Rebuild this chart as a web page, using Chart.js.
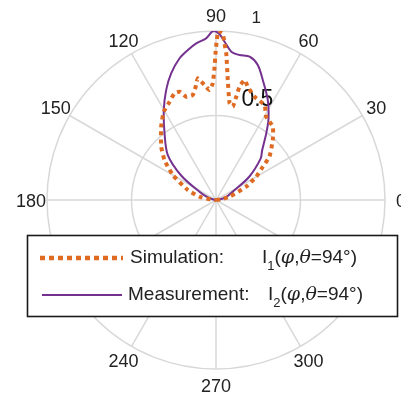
<!DOCTYPE html>
<html>
<head>
<meta charset="utf-8">
<script src="https://cdn.jsdelivr.net/npm/chart.js@4.4.1/dist/chart.umd.min.js"></script>
<style>
  html, body { margin: 0; padding: 0; background: #fff; }
  #wrap { width: 401px; height: 403px; }
</style>
</head>
<body>
<div id="wrap"><canvas id="polarChart" width="401" height="403"></canvas></div>
<script>
// simulation I1(phi, theta=94deg): angle in degrees, normalised radius
const SIM_ANGLES = [0, 8, 13.7, 23.8, 30.1, 35.4, 39, 46.6, 52.2, 58.9, 62.9, 69.6, 74.3, 76.6, 78.3, 78.9, 79.8, 82, 84.4, 86, 86.9, 87.7, 89.2, 89.7, 90.2, 90.6, 91.6, 93.4, 95.7, 98.5, 99.8, 102.5, 106.1, 108.6, 111.3, 115.3, 120.6, 126.8, 135.8, 142.2, 150, 160.5, 168.7, 175, 180];
const SIM_R = [0, 0.03, 0.082, 0.195, 0.275, 0.34, 0.407, 0.489, 0.549, 0.575, 0.631, 0.652, 0.696, 0.73, 0.685, 0.623, 0.561, 0.578, 0.714, 0.87, 0.928, 0.987, 1.0, 0.947, 0.868, 0.789, 0.69, 0.652, 0.684, 0.728, 0.69, 0.636, 0.636, 0.676, 0.677, 0.643, 0.607, 0.542, 0.452, 0.386, 0.295, 0.177, 0.1, 0.03, 0];

// measurement I2(phi, theta=94deg)
const MEAS_ANGLES = [0, 8, 15, 26.5, 35, 42.8, 47, 53, 57, 62.6, 68.7, 72.8, 76.8, 80.8, 84.1, 86.9, 89, 91, 93.5, 97.2, 100.6, 104.4, 109.5, 114.4, 120.1, 127.7, 137, 145, 153.5, 162, 172, 180];
const MEAS_R = [0, 0.02, 0.06, 0.11, 0.24, 0.36, 0.4, 0.494, 0.57, 0.666, 0.762, 0.836, 0.871, 0.869, 0.882, 0.938, 0.985, 1.0, 0.958, 0.934, 0.903, 0.866, 0.795, 0.714, 0.616, 0.498, 0.39, 0.25, 0.11, 0.05, 0.01, 0];

const ANGLE_TICKS = [0, 30, 60, 90, 120, 150, 180, 210, 240, 270, 300, 330];
const R_TICKS = [0.5, 1];
const R_TICK_LABELS = ['0.5', '1'];
const SERIES_NAMES = ['Simulation:', 'Measurement:'];
const SERIES_SUBSCRIPTS = ['1', '2'];
const SERIES_THETA = '=94°)';

const SIM_COLOR = '#DF6A22';
const MEAS_COLOR = '#74318F';
const GRID_COLOR = '#d8d8d8';
const TEXT_COLOR = '#222222';
const FONT = '"Liberation Sans", Arial, Helvetica, sans-serif';

function toXY(angles, radii) {
    return angles.map((a, i) => {
        var t = a * Math.PI / 180;
        return { x: radii[i] * Math.cos(t), y: radii[i] * Math.sin(t) };
    });
}

function polarGeom(chart) {
    var sx = chart.scales.x, sy = chart.scales.y;
    var cx = sx.getPixelForValue(0), cy = sy.getPixelForValue(0);
    return { cx: cx, cy: cy, unit: sx.getPixelForValue(1) - cx };
}

// rings, spokes and labels of the polar axes
const polarGrid = {
    id: 'polarGrid',
    beforeDatasetsDraw(chart) {
        var ctx = chart.ctx;
        var g = polarGeom(chart);
        ctx.save();
        ctx.strokeStyle = GRID_COLOR;
        ctx.lineWidth = 1.5;
        R_TICKS.forEach(r => {
            ctx.beginPath();
            ctx.arc(g.cx, g.cy, r * g.unit, 0, Math.PI * 2);
            ctx.stroke();
        });
        var rMax = R_TICKS[R_TICKS.length - 1];
        ANGLE_TICKS.forEach(a => {
            var t = a * Math.PI / 180;
            ctx.beginPath();
            ctx.moveTo(g.cx, g.cy);
            ctx.lineTo(g.cx + rMax * g.unit * Math.cos(t), g.cy - rMax * g.unit * Math.sin(t));
            ctx.stroke();
        });
        ctx.fillStyle = TEXT_COLOR;
        ctx.textAlign = 'center';
        ctx.textBaseline = 'middle';
        ctx.font = '18px ' + FONT;
        ANGLE_TICKS.forEach(a => {
            var t = a * Math.PI / 180;
            var rr = g.unit * 1.095;
            ctx.fillText(String(a), g.cx + rr * Math.cos(t), g.cy - rr * Math.sin(t) + 2);
        });
        // radial tick labels
        var pos = [[67.5, 0.64, 23], [77.5, 1.1, 17]];
        R_TICK_LABELS.forEach((lab, i) => {
            var t = pos[i][0] * Math.PI / 180;
            var rr = pos[i][1] * g.unit;
            ctx.font = pos[i][2] + 'px ' + FONT;
            ctx.fillStyle = i === 0 ? '#111' : TEXT_COLOR;
            ctx.fillText(lab, g.cx + rr * Math.cos(t), g.cy - rr * Math.sin(t));
        });
        ctx.restore();
    }
};

function drawRuns(ctx, x, y, runs) {
    runs.forEach(run => {
        ctx.font = (run.italic ? 'italic ' : '') + run.size + 'px ' + (run.family || FONT);
        ctx.fillText(run.text, x, y + (run.dy || 0));
        x += ctx.measureText(run.text).width;
    });
}

// boxed legend drawn over the lower part of the plot
const boxLegend = {
    id: 'boxLegend',
    afterDraw(chart) {
        var ctx = chart.ctx;
        ctx.save();
        ctx.fillStyle = '#fff';
        ctx.fillRect(27, 235, 371, 82);
        ctx.strokeStyle = '#1a1a1a';
        ctx.lineWidth = 1.6;
        ctx.strokeRect(27.5, 235.5, 370, 81);

        var rows = [
            { y: 258, color: SIM_COLOR, dash: [5, 4], width: 4.5, x0: 40, x1: 123, mathX: 262 },
            { y: 295, color: MEAS_COLOR, dash: [], width: 2, x0: 42, x1: 122, mathX: 268 }
        ];
        rows.forEach((row, i) => {
            ctx.strokeStyle = row.color;
            ctx.lineWidth = row.width;
            ctx.setLineDash(row.dash);
            ctx.beginPath();
            ctx.moveTo(row.x0, row.y);
            ctx.lineTo(row.x1, row.y);
            ctx.stroke();
            ctx.setLineDash([]);

            ctx.fillStyle = TEXT_COLOR;
            ctx.textAlign = 'left';
            ctx.textBaseline = 'middle';
            ctx.font = '19px ' + FONT;
            ctx.fillText(SERIES_NAMES[i], i === 0 ? 130 : 128, row.y);
            drawRuns(ctx, row.mathX, row.y, [
                { text: 'I', size: 19 },
                { text: SERIES_SUBSCRIPTS[i], size: 13, dy: 8 },
                { text: '(', size: 19 },
                { text: 'φ', size: 19, italic: true, family: '"DejaVu Serif", serif' },
                { text: ',', size: 19 },
                { text: 'θ', size: 19, italic: true, family: '"DejaVu Serif", serif' },
                { text: SERIES_THETA, size: 19 }
            ]);
        });
        ctx.restore();
    }
};

var canvas = document.getElementById('polarChart');
var ctx = canvas.getContext('2d');
new Chart(ctx, {
    type: 'scatter',
    data: {
        datasets: [
            {
                label: 'Simulation',
                data: toXY(SIM_ANGLES, SIM_R),
                showLine: true,
                borderColor: SIM_COLOR,
                borderWidth: 4,
                borderDash: [4, 4],
                pointRadius: 0,
                tension: 0.15,
                fill: false
            },
            {
                label: 'Measurement',
                data: toXY(MEAS_ANGLES, MEAS_R),
                showLine: true,
                borderColor: MEAS_COLOR,
                borderWidth: 2,
                pointRadius: 0,
                tension: 0.3,
                fill: false
            }
        ]
    },
    options: {
        responsive: false,
        animation: false,
        layout: { padding: { left: 47, right: 16, top: 31, bottom: 34 } },
        plugins: {
            legend: { display: false },
            tooltip: { enabled: false }
        },
        scales: {
            x: { type: 'linear', min: -1, max: 1, display: false },
            y: { type: 'linear', min: -1, max: 1, display: false }
        }
    },
    plugins: [polarGrid, boxLegend]
});
</script>
</body>
</html>
